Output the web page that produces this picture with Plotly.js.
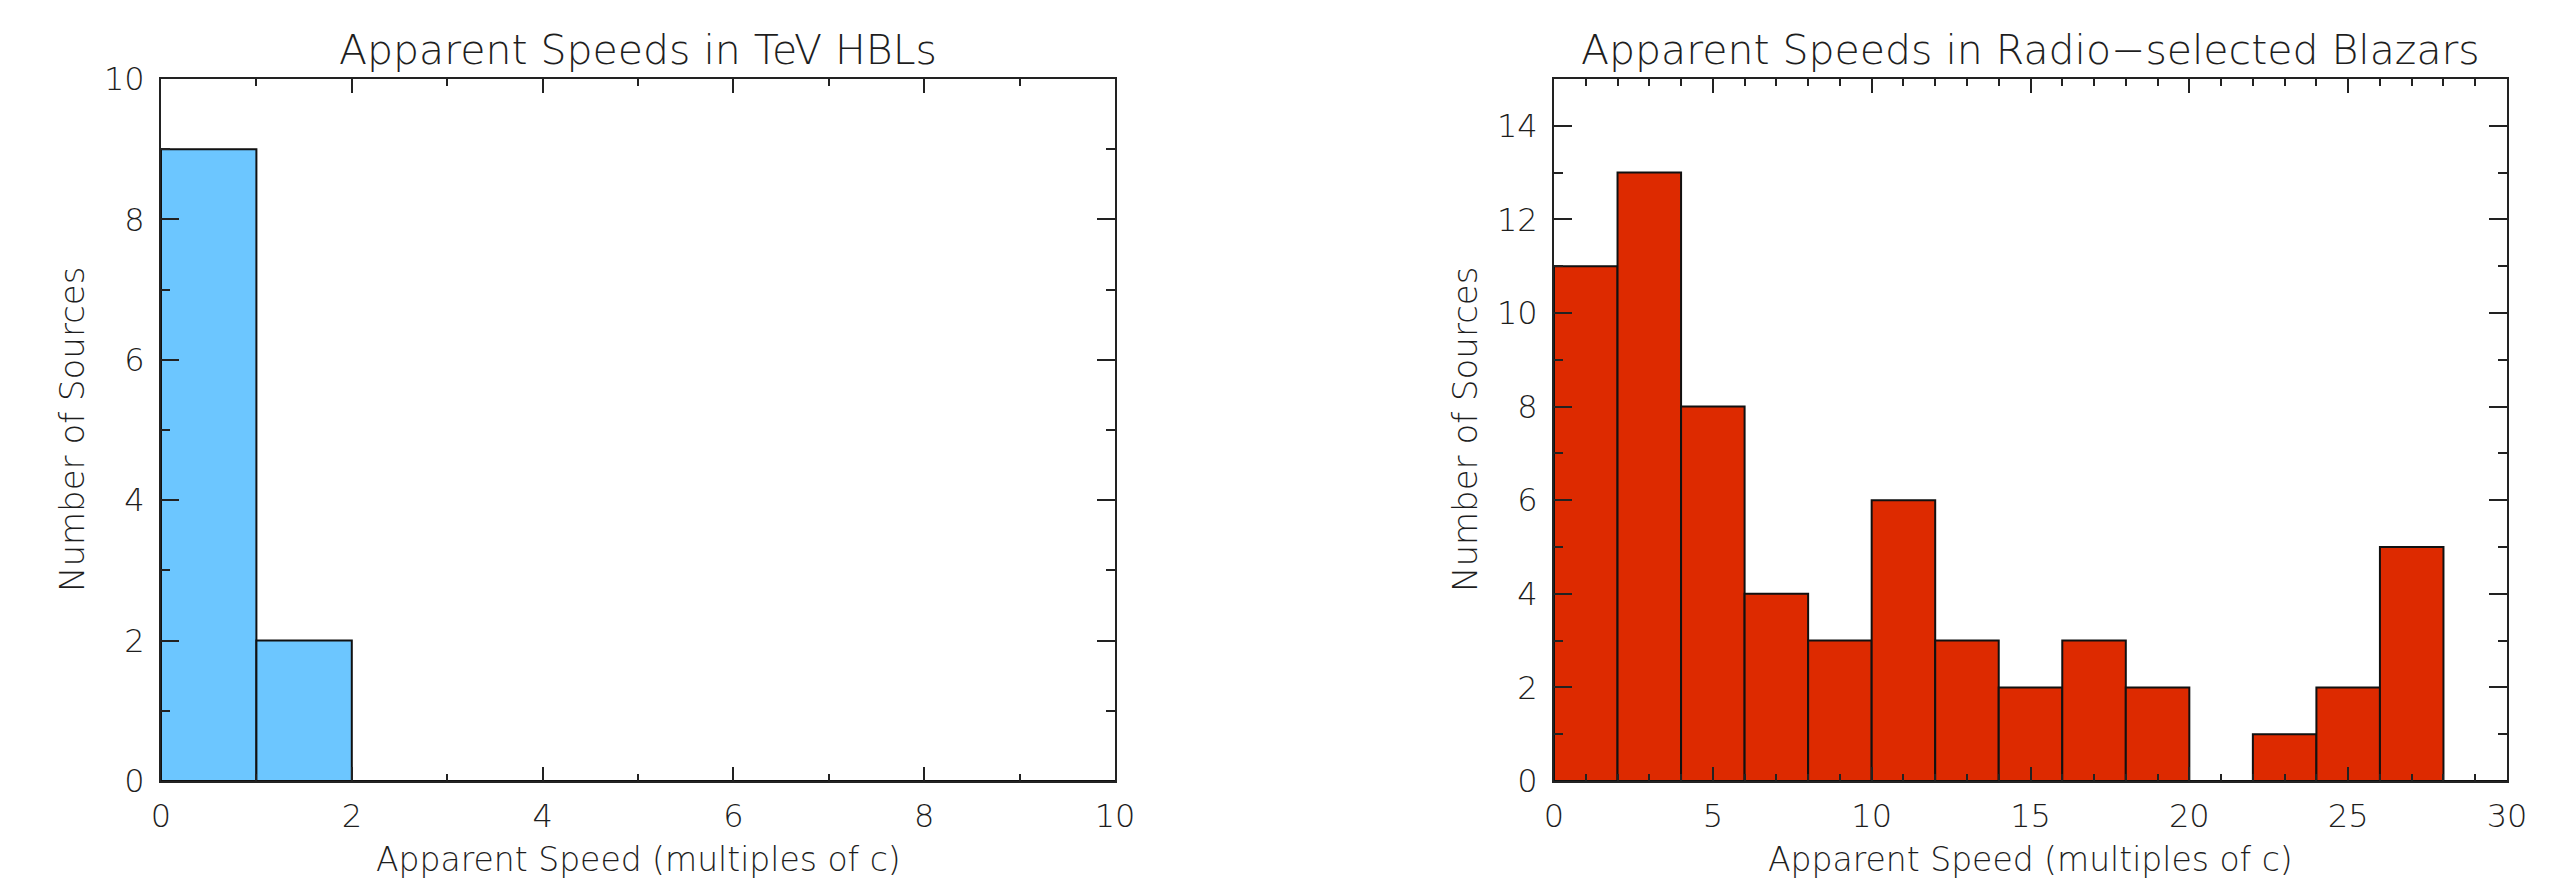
<!DOCTYPE html>
<html>
<head>
<meta charset="utf-8">
<script src="https://cdn.plot.ly/plotly-3.0.1.min.js"></script>
<style>html,body{margin:0;padding:0;background:#fff}#chart{width:2573px;height:881px}</style>
</head>
<body>
<div id="chart"></div>
<script>
// Left panel: TeV HBLs (bin width 1)
const hblBinStarts = [0, 1, 2, 3, 4, 5, 6, 7, 8, 9];
const hblCounts    = [9, 2, 0, 0, 0, 0, 0, 0, 0, 0];
const hblBinWidth = 1;

// Right panel: Radio-selected blazars (bin width 2)
const radioBinStarts = [0, 2, 4, 6, 8, 10, 12, 14, 16, 18, 20, 22, 24, 26, 28];
const radioCounts    = [11, 13, 8, 4, 3, 6, 3, 2, 3, 2, 0, 1, 2, 5, 0];
const radioBinWidth = 2;

const titles = ["Apparent Speeds in TeV HBLs", "Apparent Speeds in Radio\u2212selected Blazars"];
const xTitle = "Apparent Speed (multiples of c)";
const yTitle = "Number of Sources";

const FONT = "'DejaVu Sans', 'Open Sans', sans-serif";
const TXT = "#1e1e1e";
const WGT = 200;

const traces = [
  {type: 'bar', x: hblBinStarts, y: hblCounts, width: hblBinWidth, offset: 0,
   marker: {color: '#6CC6FF', line: {color: '#111', width: 2}}, xaxis: 'x', yaxis: 'y', hoverinfo: 'x+y'},
  {type: 'bar', x: radioBinStarts, y: radioCounts, width: radioBinWidth, offset: 0,
   marker: {color: '#DD2A00', line: {color: '#111', width: 2}}, xaxis: 'x2', yaxis: 'y2', hoverinfo: 'x+y'}
];

function ax(extra) {
  return Object.assign({
    showgrid: false, zeroline: false, showline: true, linecolor: '#222', linewidth: 2,
    mirror: 'allticks', ticks: 'inside', tickcolor: '#222', tickwidth: 2,
    tickfont: {family: FONT, size: 32, color: TXT, weight: WGT}, fixedrange: true
  }, extra);
}

const W = 2573, H = 881;
const L1 = 161/W, R1 = 1115/W, L2 = 1554/W, R2 = 2507/W;
const B = (H-781)/H, T = (H-79)/H;

const layout = {
  width: W, height: H, margin: {l: 0, r: 0, t: 0, b: 0},
  paper_bgcolor: '#fff', plot_bgcolor: '#fff', showlegend: false, bargap: 0,
  font: {family: FONT, color: TXT},
  xaxis: ax({domain: [L1, R1], anchor: 'y', range: [0, 10], dtick: 2, tick0: 0, ticklen: 14,
             ticklabelstandoff: 6, minor: {dtick: 1, ticks: 'inside', ticklen: 7, tickcolor: '#222', tickwidth: 2}}),
  yaxis: ax({domain: [B, T], anchor: 'x', range: [0, 10], dtick: 2, tick0: 0, ticklen: 18,
             ticklabelstandoff: 8, minor: {dtick: 1, ticks: 'inside', ticklen: 9, tickcolor: '#222', tickwidth: 2}}),
  xaxis2: ax({domain: [L2, R2], anchor: 'y2', range: [0, 30], dtick: 5, tick0: 0, ticklen: 14,
             ticklabelstandoff: 6, minor: {dtick: 1, ticks: 'inside', ticklen: 7, tickcolor: '#222', tickwidth: 2}}),
  yaxis2: ax({domain: [B, T], anchor: 'x2', range: [0, 15], dtick: 2, tick0: 0, ticklen: 18,
             ticklabelstandoff: 8, minor: {dtick: 1, ticks: 'inside', ticklen: 9, tickcolor: '#222', tickwidth: 2}}),
  annotations: [
    {text: titles[0], x: (L1+R1)/2, y: (H-50)/H, xref: 'paper', yref: 'paper', showarrow: false,
     xanchor: 'center', yanchor: 'middle', font: {family: FONT, size: 41, color: TXT, weight: WGT}},
    {text: titles[1], x: (L2+R2)/2, y: (H-50)/H, xref: 'paper', yref: 'paper', showarrow: false,
     xanchor: 'center', yanchor: 'middle', font: {family: FONT, size: 41, color: TXT, weight: WGT}},
    {text: xTitle, x: (L1+R1)/2, y: (H-859)/H, xref: 'paper', yref: 'paper', showarrow: false,
     xanchor: 'center', yanchor: 'middle', font: {family: FONT, size: 33, color: TXT, weight: WGT}},
    {text: xTitle, x: (L2+R2)/2, y: (H-859)/H, xref: 'paper', yref: 'paper', showarrow: false,
     xanchor: 'center', yanchor: 'middle', font: {family: FONT, size: 33, color: TXT, weight: WGT}},
    {text: yTitle, x: 72/W, y: (B+T)/2, xref: 'paper', yref: 'paper', showarrow: false, textangle: -90,
     xanchor: 'center', yanchor: 'middle', font: {family: FONT, size: 34, color: TXT, weight: WGT}},
    {text: yTitle, x: 1465/W, y: (B+T)/2, xref: 'paper', yref: 'paper', showarrow: false, textangle: -90,
     xanchor: 'center', yanchor: 'middle', font: {family: FONT, size: 34, color: TXT, weight: WGT}}
  ]
};

Plotly.newPlot('chart', traces, layout, {displayModeBar: false, staticPlot: true});
</script>
</body>
</html>
